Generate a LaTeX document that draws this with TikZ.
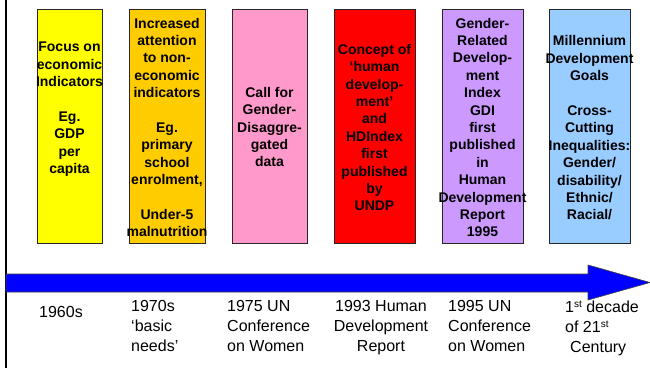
\documentclass[tikz,border=0pt]{standalone}
\usepackage{fontspec}
\setmainfont{Liberation Sans}
\definecolor{cYellow}{HTML}{FFFF00}
\definecolor{cOrange}{HTML}{FFCC00}
\definecolor{cPink}{HTML}{FF99CC}
\definecolor{cRed}{HTML}{FF0000}
\definecolor{cPurple}{HTML}{CC99FF}
\definecolor{cSky}{HTML}{99CCFF}
\definecolor{cBlue}{HTML}{0000FF}
\newcommand\ordst{\smash{\raisebox{4.5pt}{\fontsize{10}{10}\selectfont st}}}
\begin{document}
\begin{tikzpicture}[x=1pt,y=-1pt,
  boxstyle/.style={draw=black!85, line width=0.7pt, minimum width=#1, minimum height=234pt, inner sep=0pt},
  boxtext/.style={font=\bfseries\fontsize{14}{17.4}\selectfont, align=center, inner sep=0pt},
  datetext/.style={font=\fontsize{16}{20}\selectfont, inner sep=0pt},
]
\useasboundingbox (0,0) rectangle (650,368);
\fill[white] (0,0) rectangle (650,368);
% left vertical rule
\coordinate (ltop) at (5.5,0);
\coordinate (lbot) at (5.5,368);
\draw[line width=2pt, black] (ltop) -- (lbot);
% boxes
\node[boxstyle=65pt, fill=cYellow] (b1) at (69.5,126) {};
\node[boxstyle=76pt, fill=cOrange] (b2) at (167,126) {};
\node[boxstyle=75pt, fill=cPink]   (b3) at (269.5,126) {};
\node[boxstyle=81pt, fill=cRed]    (b4) at (374.5,126) {};
\node[boxstyle=81pt, fill=cPurple] (b5) at (482.5,126) {};
\node[boxstyle=81pt, fill=cSky]    (b6) at (589.5,126) {};
% box texts
\node[boxtext] (t1) at (69.5,109.5) {Focus on\\economic\\Indicators\\\mbox{}\\Eg.\\GDP\\per\\capita};
\node[boxtext] (t2) at (167,127.5) {Increased\\attention\\to non-\\economic\\indicators\\\mbox{}\\Eg.\\primary\\school\\enrolment,\\\mbox{}\\Under-5\\malnutrition};
\node[boxtext] (t3) at (269.5,127) {Call for\\Gender-\\Disaggre-\\gated\\data};
\node[boxtext] (t4) at (374.5,127.5) {Concept of\\‘human\\develop-\\ment’\\and\\HDIndex\\first\\published\\by\\UNDP};
\node[boxtext] (t5) at (482.5,127.5) {Gender-\\Related\\Develop-\\ment\\Index\\GDI\\first\\published\\in\\Human\\Development\\Report\\1995};
\node[boxtext] (t6) at (589.5,128) {Millennium\\Development\\Goals\\\mbox{}\\Cross-\\Cutting\\Inequalities:\\Gender/\\disability/\\Ethnic/\\Racial/};
% timeline arrow
\filldraw[fill=cBlue, draw=black!75, line width=0.6pt]
  (6,274) -- (588,274) -- (588,265) -- (650,282.5) -- (588,300) -- (588,292) -- (6,292) -- cycle;
% dates
\node[datetext, anchor=base west] (d1) at (39,317) {1960s};
\node[datetext, anchor=north west, align=left] (d2) at (131,300.5) {1970s\\‘basic\\needs’};
\node[datetext, anchor=north west, align=left] (d3) at (227,300.5) {1975 UN\\Conference\\on Women};
\node[datetext, anchor=north, align=center] (d4) at (381,300.5) {1993 Human\\Development\\Report};
\node[datetext, anchor=north west, align=left] (d5) at (448,300.5) {1995 UN\\Conference\\on Women};
\node[datetext, anchor=north west, align=left] (d6) at (565,300.5) {1\ordst{} decade\\of 21\ordst\\\hspace{5pt}Century};
\end{tikzpicture}
\end{document}
